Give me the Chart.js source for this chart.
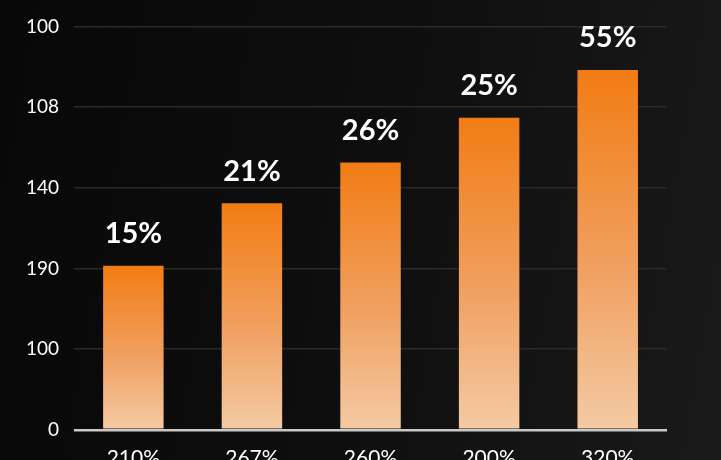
<!DOCTYPE html>
<html>
<head>
<meta charset="utf-8">
<script src="https://cdn.jsdelivr.net/npm/chart.js@4"></script>
<style>
  html, body { margin: 0; padding: 0; overflow: hidden; }
  body { width: 721px; height: 460px; background: linear-gradient(100deg, #080808 0%, #0e0e0e 50%, #1a1a1a 100%); }
  #wrap { width: 721px; height: 479px; }
</style>
</head>
<body>
<div id="wrap"><canvas id="revenueChart"></canvas></div>
<script>
const categories = ["210%", "267%", "260%", "200%", "320%"];
const values = [50.8, 70.2, 82.8, 96.7, 111.5];
const valueLabels = ["15%", "21%", "26%", "25%", "55%"];
const yTickLabels = ["0", "100", "190", "140", "108", "100"];

// draws the percent label above every bar
const topLabels = {
  id: "topLabels",
  afterDatasetsDraw(chart) {
    const ctx = chart.ctx;
    const meta = chart.getDatasetMeta(0);
    ctx.save();
    ctx.fillStyle = "#ffffff";
    ctx.font = "bold 29px Lato";
    ctx.textAlign = "center";
    ctx.textBaseline = "middle";
    meta.data.forEach((bar, i) => {
      ctx.fillText(valueLabels[i], bar.x, bar.y - 32);
    });
    ctx.restore();
  }
};

new Chart("revenueChart", {
  type: "bar",
  data: {
    labels: categories,
    datasets: [{
      data: values,
      barPercentage: 0.51,
      categoryPercentage: 1,
      backgroundColor: (context) => {
        const chart = context.chart;
        const area = chart.chartArea;
        const yScale = chart.scales.y;
        if (!area || !yScale || context.dataIndex === undefined) return "#f28a30";
        const top = yScale.getPixelForValue(values[context.dataIndex]);
        const g = chart.ctx.createLinearGradient(0, top, 0, area.bottom);
        g.addColorStop(0, "#f27c14");
        g.addColorStop(0.55, "#f0a060");
        g.addColorStop(1, "#f4caa4");
        return g;
      }
    }]
  },
  options: {
    responsive: true,
    maintainAspectRatio: false,
    animation: false,
    layout: { padding: { left: 11, right: 54, top: 14, bottom: 0 } },
    plugins: { legend: { display: false }, tooltip: { enabled: false } },
    scales: {
      x: {
        grid: { display: false },
        border: { display: false },
        ticks: { color: "#ffffff", font: { family: "Lato", size: 21 }, padding: 8 }
      },
      y: {
        min: 0,
        max: 125,
        border: { display: false },
        grid: {
          drawTicks: false,
          color: (c) => c.tick.value === 0 ? "#c9c9c9" : "#2a2a2a",
          lineWidth: (c) => c.tick.value === 0 ? 2.5 : 1.5
        },
        ticks: {
          stepSize: 25,
          color: "#ffffff",
          padding: 15,
          font: { family: "Lato", size: 19 },
          callback: (value, index) => yTickLabels[index]
        }
      }
    }
  },
  plugins: [topLabels]
});
</script>
</body>
</html>
